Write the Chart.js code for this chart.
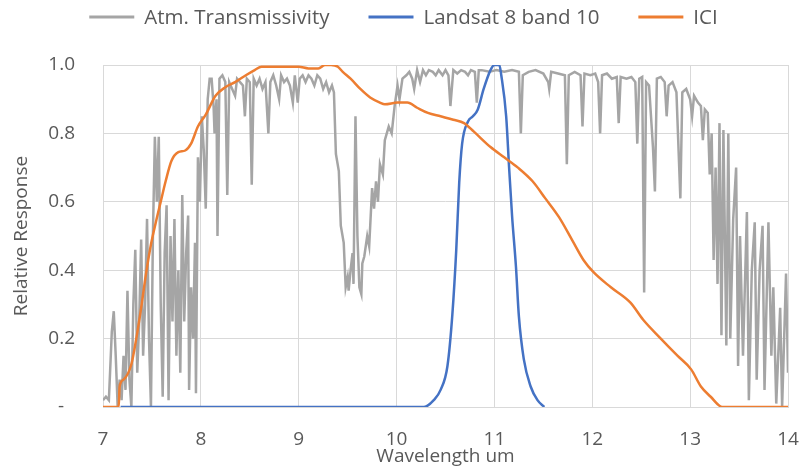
<!DOCTYPE html>
<html>
<head>
<meta charset="utf-8">
<script src="https://cdn.jsdelivr.net/npm/chart.js@4.4.1/dist/chart.umd.min.js"></script>
<style>
  html, body { margin: 0; padding: 0; background: #ffffff; }
  #wrap { width: 801px; height: 469px; }
</style>
</head>
<body>
<div id="wrap"><canvas id="c" width="801" height="469"></canvas></div>
<script>
// ---- Data ----
const seriesLabels = ['Atm. Transmissivity', 'Landsat 8 band 10', 'ICI'];
const xTickValues = [7, 8, 9, 10, 11, 12, 13, 14];
const yTickLabels = ['-', '0.2', '0.4', '0.6', '0.8', '1.0'];

const transWavelength = [
  7.00,7.03,7.06,7.09,7.11,7.13,7.15,7.17,7.19,7.21,
  7.23,7.25,7.27,7.29,7.31,7.33,7.35,7.37,7.39,7.41,
  7.43,7.45,7.47,7.49,7.51,7.53,7.55,7.57,7.59,7.61,
  7.63,7.65,7.67,7.69,7.71,7.73,7.75,7.77,7.79,7.81,
  7.83,7.85,7.87,7.88,7.90,7.92,7.94,7.95,7.97,7.99,
  8.01,8.03,8.05,8.07,8.09,8.11,8.13,8.14,8.16,8.17,
  8.19,8.22,8.25,8.27,8.29,8.32,8.35,8.37,8.40,8.43,
  8.45,8.47,8.50,8.52,8.54,8.57,8.60,8.63,8.66,8.69,
  8.71,8.74,8.77,8.80,8.82,8.85,8.88,8.91,8.94,8.96,
  8.99,9.01,9.04,9.07,9.10,9.13,9.16,9.19,9.22,9.25,
  9.28,9.31,9.34,9.36,9.38,9.41,9.43,9.46,9.48,9.50,
  9.51,9.53,9.55,9.56,9.58,9.60,9.62,9.64,9.65,9.67,
  9.70,9.72,9.75,9.77,9.79,9.81,9.83,9.86,9.88,9.92,
  9.95,9.98,10.01,10.03,10.06,10.10,10.13,10.16,10.18,10.21,
  10.24,10.27,10.30,10.33,10.37,10.40,10.43,10.47,10.50,10.53,
  10.55,10.58,10.62,10.66,10.70,10.73,10.76,10.80,10.82,10.84,
  10.87,10.95,11.02,11.10,11.18,11.25,11.27,11.29,11.35,11.42,
  11.50,11.55,11.56,11.58,11.65,11.72,11.74,11.76,11.82,11.88,
  11.90,11.92,11.98,12.03,12.06,12.08,12.10,12.15,12.20,12.25,
  12.27,12.29,12.35,12.40,12.44,12.46,12.48,12.51,12.53,12.55,
  12.58,12.62,12.64,12.66,12.70,12.74,12.76,12.78,12.82,12.86,
  12.90,12.92,12.96,13.00,13.02,13.04,13.08,13.11,13.13,13.15,
  13.18,13.20,13.22,13.24,13.26,13.28,13.30,13.32,13.34,13.37,
  13.39,13.41,13.44,13.47,13.49,13.51,13.54,13.58,13.60,13.63,
  13.66,13.68,13.71,13.74,13.76,13.80,13.83,13.85,13.88,13.92,
  13.94,13.98,14.00
];
const transValues = [
  0.02,0.03,0.02,0.22,0.28,0.15,0.00,0.08,0.02,0.15,
  0.05,0.34,0.08,0.00,0.30,0.46,0.10,0.25,0.49,0.15,
  0.30,0.55,0.20,0.00,0.50,0.79,0.60,0.79,0.30,0.03,
  0.45,0.59,0.02,0.50,0.25,0.55,0.15,0.40,0.10,0.62,
  0.25,0.45,0.56,0.05,0.35,0.20,0.48,0.04,0.73,0.60,
  0.85,0.75,0.58,0.90,0.96,0.96,0.88,0.80,0.90,0.50,
  0.96,0.97,0.95,0.62,0.95,0.93,0.91,0.96,0.95,0.94,
  0.85,0.96,0.95,0.65,0.96,0.94,0.96,0.93,0.95,0.80,
  0.95,0.97,0.94,0.90,0.97,0.95,0.96,0.94,0.89,0.97,
  0.89,0.96,0.97,0.95,0.97,0.96,0.94,0.97,0.96,0.93,
  0.95,0.92,0.94,0.92,0.74,0.69,0.53,0.48,0.35,0.38,
  0.34,0.40,0.45,0.36,0.85,0.50,0.35,0.33,0.42,0.44,
  0.50,0.47,0.64,0.58,0.66,0.60,0.71,0.68,0.78,0.82,
  0.80,0.88,0.94,0.90,0.96,0.97,0.98,0.96,0.93,0.985,
  0.95,0.985,0.97,0.985,0.98,0.97,0.985,0.97,0.985,0.97,
  0.88,0.985,0.975,0.985,0.98,0.97,0.985,0.98,0.89,0.985,
  0.985,0.98,0.985,0.98,0.985,0.98,0.80,0.97,0.98,0.985,
  0.975,0.95,0.93,0.98,0.975,0.97,0.71,0.97,0.98,0.97,
  0.82,0.975,0.97,0.975,0.95,0.80,0.97,0.975,0.96,0.965,
  0.83,0.965,0.96,0.965,0.95,0.77,0.96,0.965,0.335,0.95,
  0.94,0.76,0.63,0.96,0.965,0.95,0.85,0.94,0.95,0.92,
  0.61,0.92,0.93,0.90,0.85,0.91,0.89,0.88,0.78,0.87,
  0.86,0.68,0.80,0.43,0.70,0.36,0.83,0.21,0.81,0.18,
  0.80,0.20,0.55,0.70,0.12,0.50,0.15,0.57,0.02,0.40,
  0.54,0.08,0.40,0.53,0.05,0.54,0.15,0.35,0.01,0.29,
  0.00,0.39,0.10
];

const bandWavelength = [
  7.18,10.28,10.38,10.45,10.52,10.57,10.61,10.64,10.67,10.73,
  10.78,10.83,10.89,10.96,11.00,11.05,11.07,11.12,11.15,11.18,
  11.22,11.25,11.30,11.37,11.44,11.51
];
const bandValues = [
  0,0,0.02,0.05,0.12,0.27,0.46,0.655,0.77,0.835,
  0.85,0.87,0.93,0.985,1.0,1.0,0.97,0.85,0.70,0.56,
  0.41,0.265,0.14,0.06,0.02,0
];

const iciWavelength = [
  7.00,7.16,7.17,7.21,7.29,7.34,7.39,7.44,7.49,7.54,
  7.59,7.64,7.70,7.77,7.84,7.90,7.97,8.05,8.15,8.25,
  8.35,8.46,8.55,8.62,8.80,9.00,9.10,9.20,9.27,9.33,
  9.40,9.45,9.53,9.63,9.73,9.83,9.88,10.01,10.11,10.21,
  10.32,10.45,10.58,10.69,10.79,10.96,11.10,11.24,11.39,11.52,
  11.66,11.80,11.91,12.01,12.19,12.39,12.52,12.70,12.87,13.01,
  13.11,13.21,13.33,14.00
];
const iciValues = [
  0,0,0.06,0.08,0.125,0.20,0.29,0.39,0.475,0.54,
  0.60,0.66,0.72,0.745,0.75,0.77,0.82,0.855,0.91,0.935,
  0.95,0.97,0.985,0.995,0.995,0.995,0.99,0.99,1.0,1.0,
  0.995,0.98,0.96,0.93,0.905,0.89,0.885,0.89,0.89,0.875,
  0.86,0.85,0.84,0.83,0.805,0.76,0.73,0.70,0.66,0.61,
  0.555,0.485,0.43,0.395,0.35,0.305,0.255,0.20,0.15,0.11,
  0.06,0.03,0.0,0.0
];

// ---- Build ----
const pairs = (xs, ys) => xs.map((x, i) => ({ x: x, y: ys[i] }));
const TEXT = '#595959';
const GRID = '#d9d9d9';
const FONT = '"Open Sans", "Liberation Sans", sans-serif';

const topLegend = {
  id: 'topLegend',
  afterDraw(chart) {
    const ctx = chart.ctx;
    ctx.save();
    ctx.font = '20.5px ' + FONT;
    const items = chart.data.datasets.map(ds => ({
      label: ds.label, color: ds.borderColor, w: ctx.measureText(ds.label).width
    }));
    const lineW = 45, gap = 10, sep = 39;
    const total = items.reduce((s, it) => s + lineW + gap + it.w, 0) + sep * (items.length - 1);
    let x = (chart.width - total) / 2 + 3;
    const y = 17;
    items.forEach(it => {
      ctx.strokeStyle = it.color;
      ctx.lineWidth = 3;
      ctx.beginPath();
      ctx.moveTo(x, y);
      ctx.lineTo(x + lineW, y);
      ctx.stroke();
      ctx.fillStyle = TEXT;
      ctx.textBaseline = 'middle';
      ctx.textAlign = 'left';
      ctx.fillText(it.label, x + lineW + gap, y + 1);
      x += lineW + gap + it.w + sep;
    });
    ctx.restore();
  }
};

new Chart(document.getElementById('c'), {
  type: 'scatter',
  data: {
    datasets: [
      {
        label: seriesLabels[0],
        data: pairs(transWavelength, transValues),
        showLine: true, borderColor: '#a5a5a5', backgroundColor: '#a5a5a5',
        borderWidth: 2.5, pointRadius: 0, tension: 0, order: 3
      },
      {
        label: seriesLabels[1],
        data: pairs(bandWavelength, bandValues),
        showLine: true, borderColor: '#4472c4', backgroundColor: '#4472c4',
        borderWidth: 2.5, pointRadius: 0, cubicInterpolationMode: 'monotone', order: 2
      },
      {
        label: seriesLabels[2],
        data: pairs(iciWavelength, iciValues),
        showLine: true, borderColor: '#ed7d31', backgroundColor: '#ed7d31',
        borderWidth: 2.5, pointRadius: 0, cubicInterpolationMode: 'monotone', order: 1
      }
    ]
  },
  options: {
    responsive: false,
    animation: false,
    devicePixelRatio: 1,
    layout: { padding: { top: 65, right: 13, left: 5, bottom: 2 } },
    plugins: {
      legend: { display: false },
      tooltip: { enabled: false }
    },
    scales: {
      x: {
        type: 'linear',
        min: xTickValues[0],
        max: xTickValues[xTickValues.length - 1],
        afterBuildTicks: (axis) => { axis.ticks = xTickValues.map(v => ({ value: v })); },
        afterFit: (axis) => {
          axis.height = 60;
          axis.paddingLeft = 0; axis.paddingRight = 0;
        },
        ticks: { color: TEXT, font: { family: FONT, size: 19, lineHeight: 1.0 }, padding: 23, maxRotation: 0 },
        grid: { color: GRID, lineWidth: 1, drawTicks: false },
        border: { color: GRID },
        title: { display: true, text: 'Wavelength um', color: TEXT,
                 font: { family: FONT, size: 19, lineHeight: 1.0 }, padding: { top: 2, bottom: 1 } }
      },
      y: {
        min: 0, max: 1,
        afterFit: (axis) => {
          axis.width = 98;
          axis.paddingTop = 0; axis.paddingBottom = 0;
        },
        ticks: {
          stepSize: 0.2, color: TEXT, font: { family: FONT, size: 19 }, padding: 28,
          callback: (value, index) => index === 0 ? yTickLabels[0] + '\u2007' : yTickLabels[index]
        },
        grid: { color: GRID, lineWidth: 1, drawTicks: false },
        border: { display: false },
        title: { display: true, text: 'Relative Response', color: TEXT,
                 font: { family: FONT, size: 19, lineHeight: 1.2 }, padding: { top: 5, bottom: 16 } }
      }
    }
  },
  plugins: [topLegend]
});
</script>
</body>
</html>
